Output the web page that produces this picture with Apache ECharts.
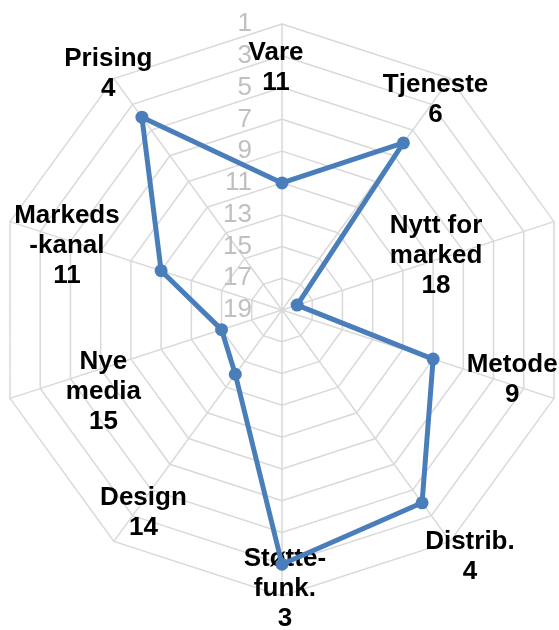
<!DOCTYPE html>
<html><head><meta charset="utf-8">
<script src="https://cdn.jsdelivr.net/npm/echarts@6/dist/echarts.min.js"></script>
<style>html,body{margin:0;padding:0;background:#fff}#c{width:559px;height:630px}</style>
</head><body><div id="c"></div>
<script>
// Categories in clockwise order starting at the top
const categories = ['Vare', 'Tjeneste', 'Nytt for\nmarked', 'Metode', 'Distrib.', 'Støtte-\nfunk.', 'Design', 'Nye\nmedia', 'Markeds\n-kanal', 'Prising'];
// Rank values (1 = best, outer edge)
const ranks = [11, 6, 18, 9, 4, 3, 14, 15, 11, 4];
// Tick labels (reversed axis: 1 at the outer edge, 19 at the centre)
const tickLabels = [1, 3, 5, 7, 9, 11, 13, 15, 17, 19];

// Label layout (fraction of radius, degrees clockwise from top)
const labelRadius = [0.857, 0.918, 0.575, 0.838, 1.077, 0.965, 0.851, 0.683, 0.788, 1.033];
const labelAngle = [358.6, 35.8, 69.5, 106.2, 142.4, 179.4, 214.7, 246.1, 287.4, 324.0];

const axisBest = tickLabels[0];
const axisWorst = tickLabels[tickLabels.length - 1];
const span = axisWorst - axisBest;
const FONT = '"Liberation Sans", Arial, sans-serif';
const CENTER = [282, 310];
const RADIUS = 286;
const LABEL_EXT = 1.2;

// ECharts radar goes counter-clockwise; reorder so categories run clockwise
const order = categories.map((c, i) => (categories.length - i) % categories.length);

const indicator = order.map((i, k) => {
  const ind = { name: categories[i], min: 0, max: span };
  if (k === 0) ind.axisLabel = { show: true };
  return ind;
});

const chart = echarts.init(document.getElementById('c'), null, { renderer: 'canvas' });
chart.setOption({
  backgroundColor: '#ffffff',
  animation: false,
  radar: {
    center: CENTER,
    radius: RADIUS,
    startAngle: 90,
    shape: 'polygon',
    splitNumber: tickLabels.length - 1,
    indicator: indicator,
    axisName: { show: false },
    splitLine: { lineStyle: { color: '#d9d9d9', width: 1.5 } },
    splitArea: { show: false },
    axisLine: { lineStyle: { color: '#d9d9d9', width: 1.5 } },
    axisTick: { show: false },
    axisLabel: {
      show: false,
      color: '#c0c0c0',
      fontSize: 26,
      fontFamily: FONT,
      margin: 30,
      formatter: v => String(axisWorst - v)
    }
  },
  polar: { center: CENTER, radius: RADIUS * LABEL_EXT },
  angleAxis: { type: 'value', min: 0, max: 360, startAngle: 90, clockwise: true, show: false },
  radiusAxis: { type: 'value', min: 0, max: LABEL_EXT, show: false },
  series: [
    {
      type: 'scatter',
      coordinateSystem: 'polar',
      z: 1,
      clip: false,
      symbolSize: 1,
      itemStyle: { color: '#ffffff', opacity: 1 },
      silent: true,
      data: categories.map((c, i) => [labelRadius[i], labelAngle[i]]),
      label: {
        show: true,
        position: 'inside',
        offset: [0, 3],
        align: 'center',
        verticalAlign: 'middle',
        color: '#000000',
        opacity: 1,
        fontSize: 26,
        fontWeight: 'bold',
        fontFamily: FONT,
        lineHeight: 30,
        formatter: p => categories[p.dataIndex] + '\n' + ranks[p.dataIndex]
      }
    },
    {
      type: 'radar',
      z: 3,
      symbol: 'circle',
      symbolSize: 13,
      lineStyle: { color: '#4a7ebb', width: 5 },
      itemStyle: { color: '#4a7ebb' },
      data: [{ value: order.map(i => axisWorst - ranks[i]) }]
    }
  ]
});
</script>
</body></html>
